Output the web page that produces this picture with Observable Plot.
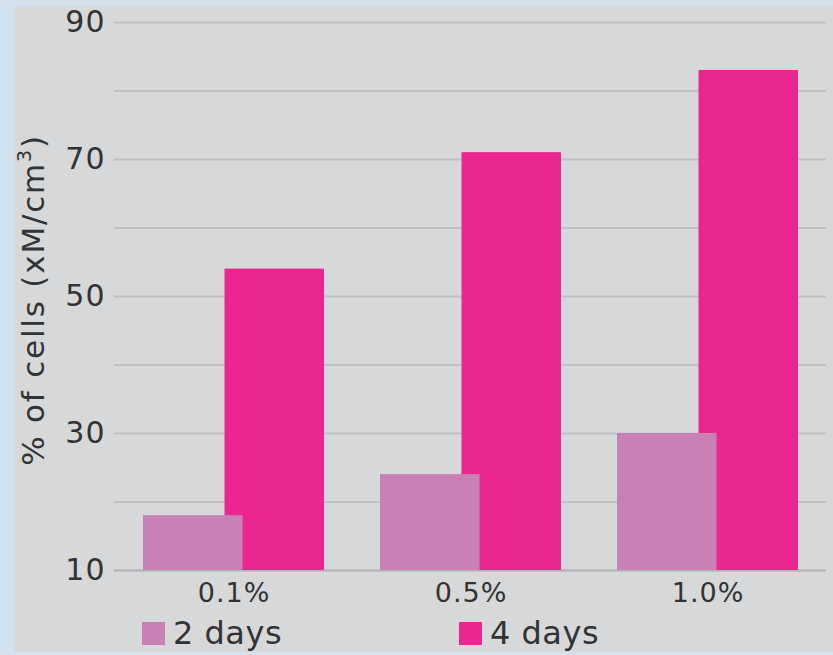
<!DOCTYPE html>
<html>
<head>
<meta charset="utf-8">
<script src="https://cdn.jsdelivr.net/npm/d3@7"></script>
<script src="https://cdn.jsdelivr.net/npm/@observablehq/plot@0.6"></script>
<style>
  html, body { margin: 0; padding: 0; }
  body { width: 833px; height: 655px; background: #d1e1ee; position: relative; overflow: hidden; font-family: "DejaVu Sans", sans-serif; }
  #panel { position: absolute; left: 14px; top: 6px; width: 819px; height: 646px; background: #d7d8da; }
  #chart { position: absolute; left: 0; top: 0; }
  #ylabel { position: absolute; left: 32px; top: 300px; transform: translate(-50%, -50%) rotate(-90deg); white-space: nowrap; font-size: 31px; letter-spacing: 1.8px; color: #333; }
  .legend { position: absolute; top: 614px; display: flex; align-items: center; font-size: 32px; letter-spacing: 0.5px; color: #333; }
  .sw { width: 23px; height: 23px; margin-right: 8px; }
</style>
</head>
<body>
<div id="panel"></div>
<div id="chart"></div>
<div id="ylabel">% of cells (xM/cm<sup style="font-size:19px;vertical-align:13px">3</sup>)</div>
<div class="legend" id="leg2" style="left:142px"><div class="sw" id="sw2"></div><span id="lt2"></span></div>
<div class="legend" id="leg4" style="left:459px"><div class="sw" id="sw4"></div><span id="lt4"></span></div>
<script>
const concentrations = ["0.1%", "0.5%", "1.0%"];
const series = ["2 days", "4 days"];
const values2days = [18, 24, 30];
const values4days = [54, 71, 83];
const colors = ["#c980b5", "#eb2690"];
const yTicks = [10, 30, 50, 70, 90];
const yGrid = [10, 20, 30, 40, 50, 60, 70, 80, 90];

const data2 = concentrations.map((c, i) => ({conc: c, series: series[0], value: values2days[i]}));
const data4 = concentrations.map((c, i) => ({conc: c, series: series[1], value: values4days[i]}));

const chart = Plot.plot({
  width: 833,
  height: 610,
  marginLeft: 114,
  marginRight: 7,
  marginTop: 22,
  marginBottom: 40,
  style: {background: "transparent", fontFamily: "DejaVu Sans, sans-serif", color: "#333"},
  x: {domain: concentrations, padding: 0, label: null},
  y: {domain: [10, 90], label: null},
  color: {domain: series, range: colors},
  marks: [
    Plot.ruleY(yGrid, {stroke: "#bfc0c2", strokeWidth: 2}),
    Plot.ruleY([10], {stroke: "#b3b4b6", strokeWidth: 2}),
    Plot.barY(data4, {x: "conc", y1: 10, y2: "value", fill: "series", insetLeft: 109.5, insetRight: 28}),
    Plot.barY(data2, {x: "conc", y1: 10, y2: "value", fill: "series", insetLeft: 28, insetRight: 109.5}),
    Plot.axisY({ticks: yTicks, tickSize: 0, tickPadding: 9, fontSize: 30, fill: "#333", label: null}),
    Plot.axisX({tickSize: 0, tickPadding: 12, fontSize: 27, fill: "#333", label: null})
  ]
});
chart.style.letterSpacing = "1px";
document.getElementById("chart").appendChild(chart);

document.getElementById("sw2").style.background = colors[0];
document.getElementById("sw4").style.background = colors[1];
document.getElementById("lt2").textContent = series[0];
document.getElementById("lt4").textContent = series[1];
</script>
</body>
</html>
